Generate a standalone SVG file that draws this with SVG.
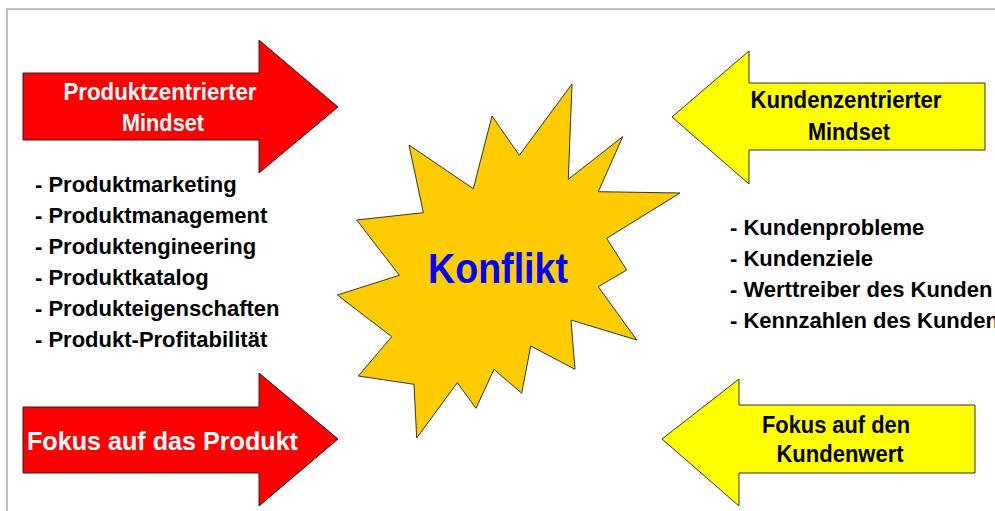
<svg xmlns="http://www.w3.org/2000/svg" width="995" height="511" viewBox="0 0 995 511">
<style>
.frame{fill:none;stroke:#c0c0c0;stroke-width:2}
.red{fill:#ff0000;stroke:#222;stroke-width:1}
.yel{fill:#ffff00;stroke:#333;stroke-width:1}
.star{fill:#ffcc00;stroke:#333;stroke-width:1}
.t{font-family:"Liberation Sans",Arial,sans-serif;font-weight:bold;font-size:23px}
.w{fill:#ffffff}
.k{fill:#000000}
.list{font-family:"Liberation Sans",Arial,sans-serif;font-weight:bold;font-size:22px;fill:#000}
.listr{font-family:"Liberation Sans",Arial,sans-serif;font-weight:bold;font-size:22px;fill:#000}
</style>
<rect width="995" height="511" fill="#ffffff"/>
<path class="frame" d="M7,511 V9 H995"/>

<g id="arrow-produktzentriert">
<polygon class="red" points="23,73 259,73 259,40 338,107 259,173 259,140 23,140"/>
<text class="t w" x="160" y="100" text-anchor="middle" textLength="193" lengthAdjust="spacingAndGlyphs">Produktzentrierter</text>
<text class="t w" x="163" y="131" text-anchor="middle" textLength="82" lengthAdjust="spacingAndGlyphs">Mindset</text>
</g>

<g id="liste-produkt">
<text class="list" x="35" y="192">- Produktmarketing</text>
<text class="list" x="35" y="223">- Produktmanagement</text>
<text class="list" x="35" y="254">- Produktengineering</text>
<text class="list" x="35" y="285">- Produktkatalog</text>
<text class="list" x="35" y="316">- Produkteigenschaften</text>
<text class="list" x="35" y="347">- Produkt-Profitabilität</text>
</g>

<g id="arrow-fokus-produkt">
<polygon class="red" points="23,407 259,407 259,373 338,439 259,506 259,473 23,473"/>
<text class="t w" x="27" y="450" style="font-size:26px" textLength="271" lengthAdjust="spacingAndGlyphs">Fokus auf das Produkt</text>
</g>

<g id="konflikt">
<polygon class="star" points="572,84 568.3,179.3 622.7,136.7 598.3,191.7 680,193 606.7,238.3 626.7,270 598.3,286.7 636.7,340 571,320 575,369.3 530.7,346 521.7,393.3 494,369.3 476,408.3 457.3,382.7 416.7,438 414,384.3 358.3,376 391.7,336.7 337.3,295 399.3,275.3 356.7,220 423.3,212.7 409,145 473.3,188.7 492,116 519.3,155.3"/>
<text x="498" y="283" text-anchor="middle" textLength="140" lengthAdjust="spacingAndGlyphs" style="font-family:'Liberation Sans',Arial,sans-serif;font-weight:bold;font-size:42px;fill:#0000ff">Konflikt</text>
</g>

<g id="arrow-kundenzentriert">
<polygon class="yel" points="985,83 749,83 749,51 672,117 749,184 749,150 985,150"/>
<text class="t k" x="846" y="108" text-anchor="middle" textLength="191" lengthAdjust="spacingAndGlyphs">Kundenzentrierter</text>
<text class="t k" x="849" y="140" text-anchor="middle" textLength="82" lengthAdjust="spacingAndGlyphs">Mindset</text>
</g>

<g id="liste-kunde">
<text class="listr" x="730" y="235">- Kundenprobleme</text>
<text class="listr" x="730" y="266">- Kundenziele</text>
<text class="listr" x="730" y="297">- Werttreiber des Kunden</text>
<text class="listr" x="730" y="328">- Kennzahlen des Kunden</text>
</g>

<g id="arrow-fokus-kundenwert">
<polygon class="yel" points="975,405 739,405 739,379 662,439 739,506 739,473 975,473"/>
<text class="t k" x="836" y="433" text-anchor="middle" textLength="148" lengthAdjust="spacingAndGlyphs">Fokus auf den</text>
<text class="t k" x="840" y="462" text-anchor="middle" textLength="127" lengthAdjust="spacingAndGlyphs">Kundenwert</text>
</g>
</svg>
